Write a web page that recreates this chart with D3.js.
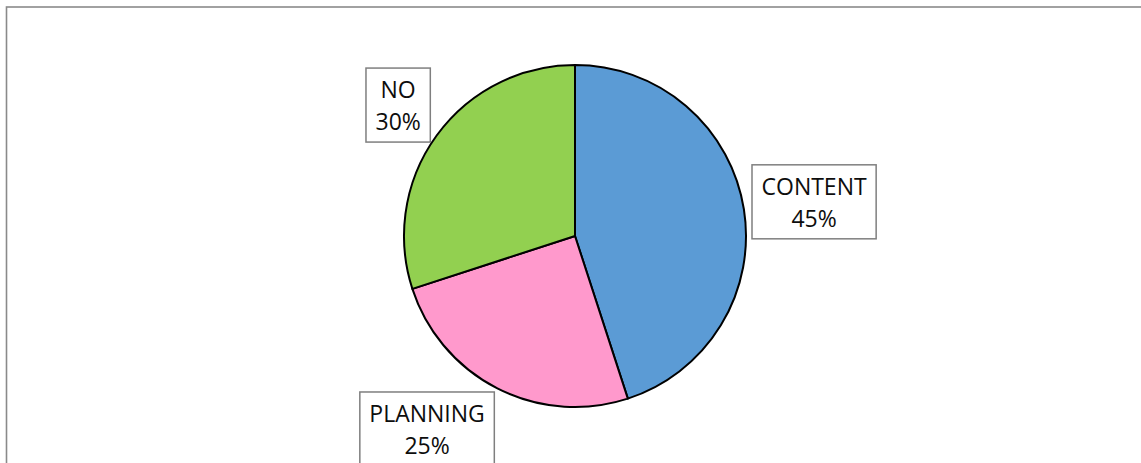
<!DOCTYPE html>
<html>
<head>
<meta charset="utf-8">
<script src="https://cdn.jsdelivr.net/npm/d3@7"></script>
<style>
  html, body { margin: 0; padding: 0; background: #ffffff; }
  svg { display: block; }
</style>
</head>
<body>
<svg id="chart" width="1141" height="463"></svg>
<script>
// Share of responses by category
const categories = ["CONTENT", "PLANNING", "NO"];
const values = [45, 25, 30];
const colors = ["#5B9BD5", "#FF99CC", "#92D050"];

const W = 1141, H = 463;
const svg = d3.select("#chart");

// Chart area frame
svg.append("rect")
  .attr("x", 6.5).attr("y", 7)
  .attr("width", W + 20).attr("height", H + 20)
  .attr("fill", "#ffffff")
  .attr("stroke", "#8a8a8a")
  .attr("stroke-width", 1.6);

const cx = 575, cy = 236, radius = 171;

const pie = d3.pie().sort(null).value(d => d.value);
const arcs = pie(categories.map((c, i) => ({ name: c, value: values[i], color: colors[i] })));
const arc = d3.arc().innerRadius(0).outerRadius(radius);

const g = svg.append("g").attr("transform", `translate(${cx},${cy})`);

g.selectAll("path.slice")
  .data(arcs)
  .join("path")
  .attr("class", "slice")
  .attr("d", arc)
  .attr("fill", d => d.data.color)
  .attr("stroke", "#000000")
  .attr("stroke-width", 2)
  .attr("stroke-linejoin", "round");

// Data labels: boxed "NAME / pct%" placed just outside each slice
const total = d3.sum(values);
const fmtPct = v => Math.round(v / total * 100) + "%";
const labelGap = 10.5;
const boxH = 74;
const padX = 9.5;
const nudge = { CONTENT: [-1.5, 0], NO: [-4, -2.5], PLANNING: [-35, -1.7] };

const labels = g.selectAll("g.label")
  .data(arcs)
  .join("g")
  .attr("class", "label");

labels.each(function(d) {
  const sel = d3.select(this);
  const box = sel.append("rect")
    .attr("fill", "#ffffff")
    .attr("stroke", "#7f7f7f")
    .attr("stroke-width", 1.5);
  const t1 = sel.append("text").text(d.data.name);
  const t2 = sel.append("text").text(fmtPct(d.data.value));
  sel.selectAll("text")
    .attr("text-anchor", "middle")
    .attr("font-family", "'Open Sans', sans-serif")
    .attr("font-size", 23)
    .attr("fill", "#0d0d0d");

  const w = Math.max(t1.node().getComputedTextLength(), t2.node().getComputedTextLength()) + 2 * padX;
  const mid = (d.startAngle + d.endAngle) / 2;
  const dx = Math.sin(mid), dy = -Math.cos(mid);
  const n = nudge[d.data.name] || [0, 0];
  const bx = (radius + labelGap) * dx + dx * w / 2 + n[0];
  const by = (radius + labelGap) * dy + dy * boxH / 2 + n[1];

  box.attr("x", bx - w / 2).attr("y", by - boxH / 2)
    .attr("width", w).attr("height", boxH);
  t1.attr("x", bx).attr("y", by - 7);
  t2.attr("x", bx).attr("y", by + 25);
});
</script>
</body>
</html>
